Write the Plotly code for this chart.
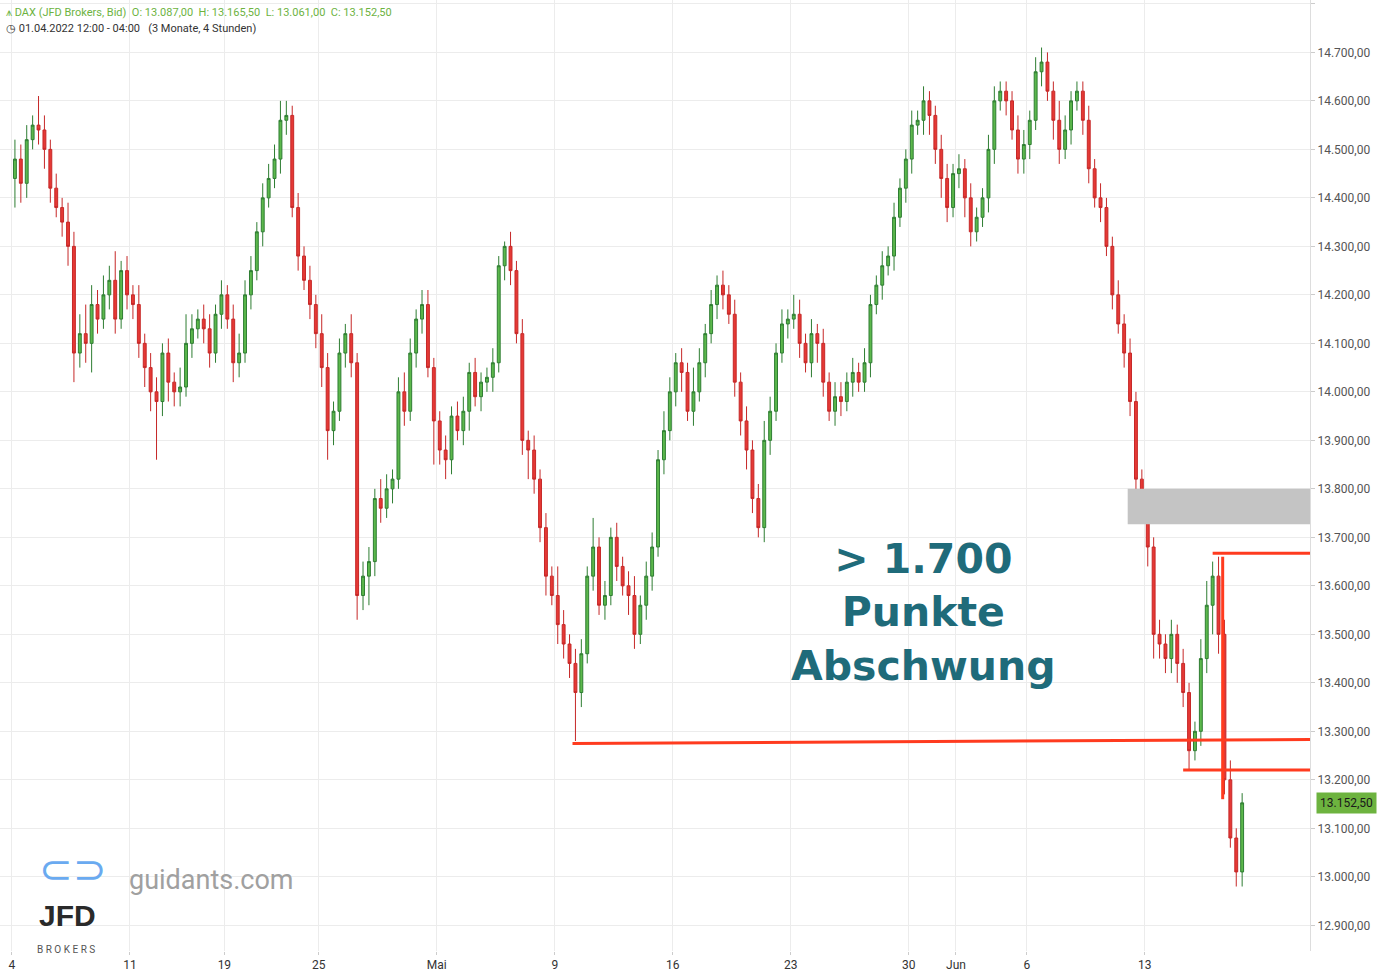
import plotly.graph_objects as go

# closes, 4 x 4h candles per trading day (last day partial)
closes = [
    14480, 14430, 14520, 14550,  14540, 14500, 14420, 14380,  14350, 14300, 14080, 14120,
    14100, 14180, 14150, 14200,  14230, 14150, 14250, 14200,  14180, 14100, 14050, 14000,
    13980, 14080, 14020, 14000,  14010, 14100, 14130, 14150,  14130, 14080, 14160, 14200,
    14150, 14060, 14080, 14200,  14250, 14330, 14400, 14440,  14480, 14560, 14570, 14380,
    14280, 14230, 14180, 14120,  14050, 13920, 13960, 14080,  14120, 14060, 13580, 13620,
    13650, 13780, 13760, 13800,  13820, 14000, 13960, 14080,  14150, 14180, 14050, 13940,
    13880, 13860, 13950, 13920,  13960, 14040, 13990, 14020,  14030, 14060, 14260, 14300,
    14250, 14120, 13900, 13880,  13820, 13720, 13620, 13580,  13520, 13480, 13440, 13380,
    13460, 13620, 13680, 13560,  13580, 13700, 13640, 13600,  13580, 13500, 13560, 13620,
    13680, 13860, 13920, 14000,  14060, 14040, 13960, 14000,  14060, 14120, 14180, 14220,
    14200, 14160, 14020, 13940,  13880, 13780, 13720, 13900,  13960, 14080, 14140, 14150,
    14160, 14100, 14060, 14120,  14100, 14020, 13960, 13990,  13980, 14020, 14040, 14020,
    14060, 14180, 14220, 14260,  14280, 14360, 14420, 14480,  14550, 14560, 14600, 14570,
    14500, 14440, 14380, 14450,  14460, 14400, 14330, 14360,  14400, 14500, 14600, 14620,
    14600, 14540, 14480, 14510,  14560, 14660, 14680, 14620,  14560, 14500, 14540, 14600,
    14620, 14560, 14460, 14400,  14380, 14300, 14200, 14140,  14080, 13980, 13820, 13760,
    13680, 13500, 13480, 13450,  13500, 13440, 13380, 13260,  13300, 13450, 13560, 13620,
    13500, 13200, 13080, 13010,  13152.5,
]
first_open = 14440

upper_wick = [
    40, 30, 30, 20,  60, 30, 20, 30,  20, 40, 30, 40,  60, 40, 30, 40,  30, 60, 20, 30,
    20, 40, 20, 30,  30, 20, 30, 20,  40, 60, 30, 20,  30, 30, 20, 30,  20, 30, 40, 30,
    30, 20, 30, 30,  30, 40, 30, 20,  30, 20, 30, 20,  40, 30, 20, 30,  20, 40, 20, 30,
    30, 20, 40, 30,  20, 30, 40, 30,  20, 30, 30, 20,  20, 30, 20, 30,  30, 20, 30, 20,
    20, 30, 20, 10,  30, 20, 30, 20,  30, 20, 30, 20,  60, 30, 20, 30,  30, 20, 60, 20,
    30, 20, 30, 20,  30, 40, 20, 30,  30, 20, 40, 30,  20, 30, 20, 50,  30, 20, 30, 20,
    30, 20, 30, 20,  30, 20, 30, 40,  30, 20, 30, 20,  40, 30, 20, 30,  20, 30, 20, 30,
    30, 20, 30, 20,  30, 20, 20, 30,  20, 30, 20, 20,  30, 20, 30, 20,  20, 30, 30, 20,
    30, 20, 30, 20,  20, 30, 30, 20,  20, 20, 30, 30,  20, 30, 30, 20,  20, 40, 30, 20,
    20, 20, 30, 20,  30, 20, 20, 30,  20, 30, 20, 20,  30, 20, 30, 20,  30, 20, 30, 20,
    20, 40, 50, 30,  40, 30, 40, 20,  20,
]
lower_wick = [
    60, 40, 30, 20,  30, 40, 30, 20,  30, 40, 60, 30,  40, 60, 30, 20,  30, 30, 20, 30,
    30, 30, 40, 40,  120, 30, 40, 30,  30, 20, 30, 20,  30, 30, 20, 30,  20, 40, 30, 20,
    30, 20, 30, 20,  20, 30, 30, 20,  30, 20, 30, 30,  40, 60, 30, 20,  30, 30, 50, 30,
    60, 30, 30, 20,  30, 20, 30, 20,  30, 30, 20, 90,  30, 40, 30, 20,  30, 40, 20, 30,
    20, 30, 20, 30,  30, 20, 30, 60,  30, 30, 40, 20,  40, 30, 30, 100, 30, 20, 30, 20,
    30, 20, 30, 20,  40, 30, 20, 30,  30, 20, 30, 20,  30, 40, 20, 30,  20, 30, 20, 30,
    30, 20, 30, 30,  40, 30, 20, 30,  30, 20, 20, 30,  20, 30, 20, 30,  40, 30, 20, 30,
    30, 20, 30, 20,  20, 30, 20, 30,  20, 30, 20, 30,  30, 20, 30, 40,  30, 40, 30, 20,
    30, 40, 30, 20,  20, 30, 30, 20,  30, 20, 30, 30,  30, 20, 30, 20,  40, 30, 20, 30,
    20, 30, 30, 20,  30, 20, 30, 20,  30, 30, 40, 30,  40, 50, 30, 30,  30, 40, 30, 40,
    20, 30, 30, 60,  40, 30, 20, 30,  30,
]

day_labels = ["4", "11", "19", "25", "Mai", "9", "16", "23", "30", "Jun", "6", "13"]
day_index = [0, 5, 9, 13, 18, 23, 28, 33, 38, 40, 43, 48]
y_ticks = [12900 + 100 * k for k in range(20)]

opens = [first_open] + closes[:-1]
highs = [max(o, c) + w for o, c, w in zip(opens, closes, upper_wick)]
lows = [min(o, c) - w for o, c, w in zip(opens, closes, lower_wick)]
xs = list(range(len(closes)))

fig = go.Figure()
fig.add_trace(go.Candlestick(
    x=xs, open=opens, high=highs, low=lows, close=closes,
    increasing=dict(line=dict(color="#2e7d32", width=1), fillcolor="#5cb84c"),
    decreasing=dict(line=dict(color="#c62828", width=1), fillcolor="#e53935"),
    whiskerwidth=0, showlegend=False, hoverinfo="skip",
))

red = "#ff3b1f"
xr = 219.5
# gap zone
fig.add_shape(type="rect", x0=188.6, x1=xr, y0=13727, y1=13800,
              fillcolor="#c4c4c4", line_width=0, layer="above")
# support / resistance lines
fig.add_shape(type="line", x0=94.5, x1=xr, y0=13275, y1=13283, line=dict(color=red, width=3))
fig.add_shape(type="line", x0=203, x1=xr, y0=13667, y1=13667, line=dict(color=red, width=3))
fig.add_shape(type="line", x0=198, x1=xr, y0=13220, y1=13220, line=dict(color=red, width=3))
fig.add_shape(type="line", x0=204.7, x1=204.7, y0=13660, y1=13160, line=dict(color=red, width=3))

fig.add_annotation(x=154, y=13545, text="> 1.700<br>Punkte<br>Abschwung", showarrow=False,
                   font=dict(family="DejaVu Sans", size=41, color="#1f6b7a", weight="bold"),
                   align="center")

# header
fig.add_annotation(xref="paper", yref="paper", x=0.0, y=1.0, xanchor="left", yanchor="top",
                   text="<span style='color:#6db33f'>⩚ DAX (JFD Brokers, Bid)  O: 13.087,00  H: 13.165,50  L: 13.061,00  C: 13.152,50</span>",
                   showarrow=False, font=dict(size=11, family="Roboto"), xshift=4, yshift=-4)
fig.add_annotation(xref="paper", yref="paper", x=0.0, y=1.0, xanchor="left", yanchor="top",
                   text="◷ 01.04.2022 12:00 - 04:00   (3 Monate, 4 Stunden)",
                   showarrow=False, font=dict(size=11, family="Roboto", color="#333"), xshift=4, yshift=-20)
# last price label
fig.add_annotation(xref="paper", yref="y", x=1.0, y=13152.5, xanchor="left", text="13.152,50",
                   showarrow=False, bgcolor="#6db33f", font=dict(size=12, color="#1a1a1a"),
                   borderpad=3, xshift=6)
# watermark
fig.add_annotation(xref="paper", yref="paper", x=0.097, y=0.056, xanchor="left",
                   text="guidants.com", showarrow=False, font=dict(size=27, color="#a0a0a0", family="Roboto"))
fig.add_annotation(xref="paper", yref="paper", x=0.028, y=0.059, xanchor="left", text="⊂⊃",
                   showarrow=False, font=dict(size=40, color="#6aaaf0"))
fig.add_annotation(xref="paper", yref="paper", x=0.028, y=0.018, xanchor="left", text="<b>JFD</b>",
                   showarrow=False, font=dict(size=30, color="#2a2a2a", family="Liberation Sans"))
fig.add_annotation(xref="paper", yref="paper", x=0.027, y=-0.006, xanchor="left", text="B R O K E R S",
                   showarrow=False, font=dict(size=10, color="#555", family="Roboto"))

fig.update_layout(
    width=1382, height=973,
    margin=dict(l=0, r=72, t=0, b=22),
    plot_bgcolor="white", paper_bgcolor="white",
    separators=",.",
    xaxis=dict(range=[-2.53, xr], rangeslider=dict(visible=False),
               tickvals=[4 * d - 0.5 for d in day_index], ticktext=day_labels,
               showgrid=True, gridcolor="#ececec", ticks="outside", ticklen=3, tickcolor="#ccc",
               tickfont=dict(size=12, color="#333"), showline=False, zeroline=False),
    yaxis=dict(range=[12847, 14808], side="right", tickvals=y_ticks, tickformat=",.2f",
               showgrid=True, gridcolor="#ececec", tickfont=dict(size=12, color="#555"),
               showline=True, linecolor="#ddd", zeroline=False, ticks="outside", ticklen=4,
               tickcolor="#ccc"),
    font=dict(family="Roboto"),
)

fig.write_html("out.html", config=dict(displayModeBar=False),
               post_script="document.body.style.margin='0';document.body.style.overflow='hidden';")
